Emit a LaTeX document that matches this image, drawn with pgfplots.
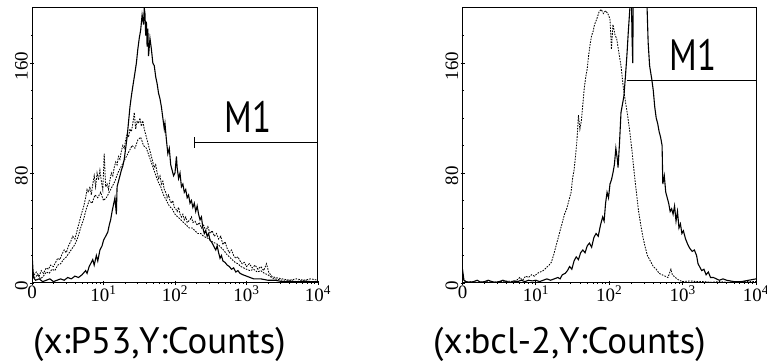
\documentclass[border=0pt]{standalone}
\usepackage{pgfplots}
\pgfplotsset{compat=1.18}
\usepackage{fontspec}
\setmainfont{Liberation Serif}
\newfontfamily\capfont{PT Sans}
\newfontfamily\mfont[FakeStretch=0.8]{PT Sans}
\begin{document}
\begin{tikzpicture}
\path[use as bounding box] (0bp,0bp) rectangle (767bp,364bp);
\pgfplotsset{
  flowax/.style={
    scale only axis, height=275bp,
    xmin=0, xmax=4, ymin=0, ymax=200,
    axis line style={line width=1bp},
    xtick={0,1,2,3,4},
    xticklabels={0,10\textsuperscript{1},10\textsuperscript{2},10\textsuperscript{3},10\textsuperscript{4}},
    minor xtick={0.301,0.477,0.602,0.699,0.778,0.845,0.903,0.954,
      1.301,1.477,1.602,1.699,1.778,1.845,1.903,1.954,
      2.301,2.477,2.602,2.699,2.778,2.845,2.903,2.954,
      3.301,3.477,3.602,3.699,3.778,3.845,3.903,3.954},
    ytick={0,80,160},
    minor ytick={20,40,60,100,120,140,180},
    tick align=center,
    major tick length=4bp, minor tick length=2bp,
    every tick/.style={black, line width=0.8bp},
    xtick pos=bottom, ytick pos=left,
    /pgf/number format/assume math mode=true,
    tick label style={font=\fontsize{19}{19}\selectfont},
    xticklabel style={inner sep=1bp},
    yticklabel style={rotate=90, anchor=south, inner sep=2bp, xshift=-3bp},
    solidc/.style={black, line width=1.1bp},
    dotc/.style={black, line width=0.85bp, dash pattern=on 1.6bp off 1.2bp},
  }
}
% ---------------- left panel: P53 ----------------
\begin{axis}[flowax, at={(32bp,81bp)}, anchor=south west, width=286bp]
\addplot[solidc] coordinates {
(0.00,22)(0.02,4)(0.05,2)(0.10,3)(0.15,1)(0.20,2)(0.25,3)(0.30,1)(0.35,2)(0.40,3)(0.45,2)(0.50,4)(0.55,3)(0.60,5)(0.65,4)(0.70,6)(0.75,9)(0.77,7)(0.80,12)(0.83,15)(0.85,17)(0.87,13)(0.90,20)(0.92,16)(0.95,24)(0.98,27)(1.00,31)(1.03,34)(1.06,37)(1.08,42)(1.10,46)(1.12,52)(1.14,57)(1.16,62)(1.18,50)(1.19,70)(1.21,74)(1.23,78)(1.25,82)(1.27,85)(1.29,90)(1.31,98)(1.33,106)(1.35,117)(1.37,128)(1.39,136)(1.41,143)(1.44,153)(1.46,160)(1.48,170)(1.50,178)(1.52,184)(1.54,195)(1.56,188)(1.57,200)(1.58,196)(1.59,180)(1.60,190)(1.61,172)(1.62,185)(1.63,165)(1.65,178)(1.67,170)(1.69,160)(1.71,158)(1.73,150)(1.75,145)(1.77,138)(1.79,134)(1.81,128)(1.83,120)(1.85,112)(1.86,116)(1.88,104)(1.90,94)(1.92,98)(1.94,86)(1.96,82)(1.98,78)(2.00,80)(2.02,92)(2.03,84)(2.05,76)(2.07,80)(2.09,70)(2.11,72)(2.13,66)(2.15,68)(2.17,62)(2.19,64)(2.21,58)(2.23,60)(2.25,55)(2.27,58)(2.29,52)(2.31,56)(2.33,50)(2.35,46)(2.37,48)(2.39,40)(2.41,36)(2.43,38)(2.45,34)(2.47,36)(2.49,31)(2.51,30)(2.53,28)(2.55,26)(2.57,24)(2.59,27)(2.61,22)(2.63,18)(2.65,20)(2.67,16)(2.70,15)(2.73,13)(2.76,12)(2.79,10)(2.82,11)(2.85,8)(2.88,9)(2.91,7)(2.95,6)(3.00,5)(3.05,4)(3.10,3)(3.20,3)(3.30,2)(3.40,2)(3.50,1)(3.60,1)(3.70,1)(3.80,1)(3.90,1)(4.00,1)
};
\addplot[dotc] coordinates {
(0.00,10)(0.03,6)(0.06,8)(0.10,5)(0.13,9)(0.16,7)(0.20,11)(0.23,10)(0.26,13)(0.30,12)(0.33,15)(0.36,18)(0.39,17)(0.42,21)(0.45,24)(0.48,22)(0.51,27)(0.54,30)(0.57,34)(0.60,32)(0.63,38)(0.66,44)(0.69,50)(0.72,55)(0.75,62)(0.77,68)(0.79,66)(0.81,70)(0.83,64)(0.85,72)(0.87,78)(0.89,70)(0.91,80)(0.93,75)(0.95,82)(0.97,74)(0.99,68)(1.01,94)(1.03,70)(1.05,72)(1.07,68)(1.09,75)(1.11,80)(1.13,78)(1.15,84)(1.17,88)(1.19,86)(1.21,92)(1.23,90)(1.25,96)(1.27,100)(1.29,98)(1.31,104)(1.33,108)(1.35,106)(1.37,112)(1.39,110)(1.41,116)(1.43,124)(1.45,112)(1.47,118)(1.49,116)(1.51,120)(1.53,114)(1.55,118)(1.57,112)(1.59,108)(1.61,104)(1.63,100)(1.65,96)(1.67,92)(1.69,88)(1.71,84)(1.73,86)(1.75,80)(1.77,76)(1.79,78)(1.81,72)(1.83,74)(1.85,68)(1.87,66)(1.89,62)(1.91,64)(1.93,60)(1.95,58)(1.97,60)(1.99,55)(2.01,54)(2.03,52)(2.05,55)(2.07,50)(2.09,48)(2.11,50)(2.13,46)(2.15,48)(2.17,44)(2.19,45)(2.21,46)(2.23,48)(2.25,44)(2.28,45)(2.31,42)(2.34,44)(2.37,40)(2.40,42)(2.43,38)(2.46,41)(2.49,36)(2.52,38)(2.55,34)(2.58,36)(2.61,32)(2.64,34)(2.67,28)(2.70,30)(2.73,25)(2.76,22)(2.79,24)(2.82,20)(2.85,18)(2.88,19)(2.91,16)(2.94,14)(2.97,15)(3.00,12)(3.04,14)(3.08,11)(3.12,13)(3.16,10)(3.20,12)(3.24,9)(3.28,14)(3.31,8)(3.35,5)(3.40,4)(3.50,3)(3.60,2)(3.70,3)(3.80,2)(3.90,3)(4.00,2)
};
\addplot[dotc] coordinates {
(0.00,6)(0.04,4)(0.08,6)(0.12,3)(0.16,5)(0.20,8)(0.24,7)(0.28,10)(0.32,9)(0.36,13)(0.40,14)(0.44,17)(0.48,19)(0.52,22)(0.56,25)(0.60,28)(0.64,33)(0.68,40)(0.72,46)(0.76,54)(0.80,60)(0.84,58)(0.88,64)(0.92,62)(0.96,66)(1.00,60)(1.04,62)(1.08,66)(1.12,70)(1.16,74)(1.20,80)(1.24,84)(1.28,88)(1.32,92)(1.36,96)(1.40,100)(1.44,98)(1.48,104)(1.52,106)(1.56,100)(1.60,98)(1.64,92)(1.68,86)(1.72,80)(1.76,74)(1.80,70)(1.84,64)(1.88,60)(1.92,56)(1.96,54)(2.00,50)(2.04,48)(2.08,46)(2.12,44)(2.16,42)(2.20,40)(2.24,40)(2.28,38)(2.32,36)(2.36,36)(2.40,34)(2.44,33)(2.48,32)(2.52,30)(2.56,29)(2.60,28)(2.64,26)(2.68,24)(2.72,21)(2.76,19)(2.80,17)(2.84,15)(2.88,14)(2.92,12)(2.96,11)(3.00,10)(3.05,9)(3.10,10)(3.15,8)(3.20,9)(3.25,7)(3.30,6)(3.35,4)(3.40,3)(3.50,2)(3.60,2)(3.70,1)(3.80,2)(3.90,1)(4.00,1)
};
% M1 marker
\addplot[black, line width=1bp] coordinates {(2.27,102.5)(4,102.5)};
\addplot[black, line width=1bp] coordinates {(2.27,98.5)(2.27,106.5)};
\node[font=\mfont\fontsize{44}{44}\selectfont, inner sep=0pt] at (axis cs:3.02,121) {M1};
\end{axis}
% ---------------- right panel: bcl-2 ----------------
\begin{axis}[flowax, at={(462.5bp,81bp)}, anchor=south west, width=293.5bp]
\addplot[solidc] coordinates {
(0.00,10)(0.02,2)(0.05,1)(0.10,0.5)(0.15,1)(0.20,2)(0.25,0.5)(0.30,1)(0.35,2)(0.40,1)(0.45,0.5)(0.50,1)(0.55,2)(0.60,1)(0.65,0.5)(0.70,1.5)(0.75,1)(0.80,2)(0.85,1)(0.90,2)(0.95,1.5)(1.00,2)(1.05,1)(1.10,2)(1.15,3)(1.20,2)(1.25,3)(1.30,4)(1.33,3)(1.36,6)(1.40,7)(1.43,9)(1.46,12)(1.49,10)(1.52,16)(1.55,19)(1.58,17)(1.61,22)(1.64,24)(1.67,22)(1.70,27)(1.73,29)(1.76,26)(1.79,33)(1.82,36)(1.85,34)(1.88,42)(1.91,48)(1.93,45)(1.95,58)(1.97,66)(1.99,62)(2.01,72)(2.03,75)(2.05,80)(2.07,86)(2.09,98)(2.11,90)(2.12,84)(2.14,102)(2.16,124)(2.18,130)(2.20,136)(2.22,150)(2.24,165)(2.26,183)(2.28,199)(2.30,215)(2.31,180)(2.32,160)(2.33,225)(2.36,240)(2.40,250)(2.44,245)(2.48,230)(2.51,210)(2.53,175)(2.55,158)(2.58,148)(2.60,140)(2.62,128)(2.64,120)(2.66,116)(2.68,110)(2.70,106)(2.72,100)(2.73,72)(2.75,78)(2.77,66)(2.79,62)(2.81,58)(2.83,52)(2.85,54)(2.87,50)(2.89,56)(2.91,45)(2.93,52)(2.95,40)(2.97,43)(2.99,36)(3.01,38)(3.04,32)(3.07,28)(3.10,25)(3.13,23)(3.16,24)(3.19,20)(3.21,14)(3.23,12)(3.26,9)(3.29,10)(3.32,6)(3.35,8)(3.38,4)(3.42,4)(3.46,3)(3.50,2)(3.55,3)(3.60,2)(3.70,1)(3.80,1)(3.90,2)(4.00,3)
};
\addplot[dotc] coordinates {
(0.00,3)(0.05,0.5)(0.10,1)(0.20,0.5)(0.30,1)(0.40,0.5)(0.50,1)(0.60,1.5)(0.70,1)(0.74,2)(0.78,4)(0.82,2)(0.86,5)(0.90,4)(0.94,6)(0.98,5)(1.02,7)(1.06,8)(1.10,9)(1.14,11)(1.18,13)(1.21,15)(1.24,20)(1.27,26)(1.30,32)(1.33,38)(1.36,44)(1.39,50)(1.42,54)(1.45,60)(1.48,66)(1.50,76)(1.52,82)(1.54,92)(1.56,104)(1.58,122)(1.60,112)(1.62,118)(1.64,130)(1.66,142)(1.68,150)(1.70,156)(1.72,166)(1.74,174)(1.76,180)(1.78,183)(1.80,188)(1.83,192)(1.86,197)(1.89,199)(1.92,196)(1.95,198)(1.98,196)(2.01,192)(2.03,170)(2.05,188)(2.08,180)(2.10,178)(2.13,168)(2.16,158)(2.19,143)(2.22,132)(2.25,122)(2.28,110)(2.31,96)(2.34,80)(2.37,66)(2.40,52)(2.43,42)(2.46,33)(2.49,26)(2.52,20)(2.56,16)(2.60,12)(2.64,10)(2.68,7)(2.72,6)(2.76,5)(2.80,4)(2.84,10)(2.86,6)(2.90,4)(2.95,2)(3.00,1)(3.10,1.5)(3.20,1)(3.30,1)(3.40,0.5)(3.50,1)(3.60,0.5)(3.80,1)(4.00,1)
};
\addplot[black, line width=1bp] coordinates {(2.24,147)(4,147)};
\node[font=\mfont\fontsize{44}{44}\selectfont, inner sep=0pt] at (axis cs:3.14,166) {M1};
\end{axis}
% captions
\node[font=\capfont\fontsize{37}{37}\selectfont, anchor=west, inner sep=0pt] at (33bp,20bp) {(x:P53,Y:Counts)};
\node[font=\capfont\fontsize{37}{37}\selectfont, anchor=west, inner sep=0pt] at (433bp,20bp) {(x:bcl-2,Y:Counts)};
\end{tikzpicture}
\end{document}
